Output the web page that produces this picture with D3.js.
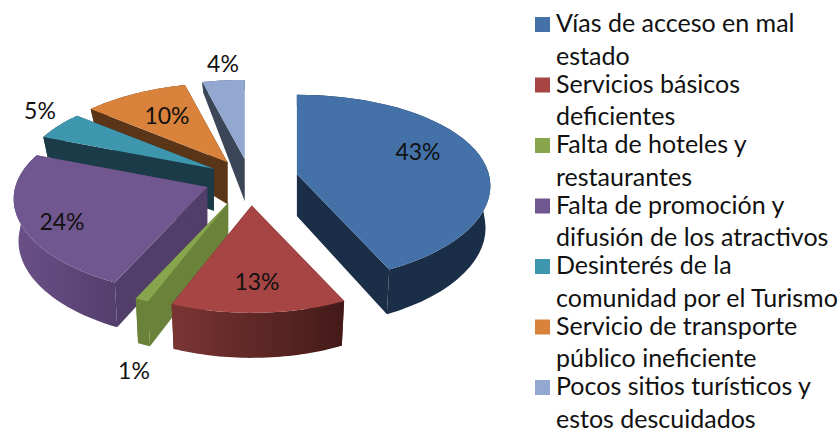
<!DOCTYPE html>
<html>
<head>
<meta charset="utf-8">
<script src="https://cdnjs.cloudflare.com/ajax/libs/d3/7.8.5/d3.min.js"></script>
<style>
  html, body { margin: 0; padding: 0; background: #fff; overflow: hidden; }
  text { font-family: Lato, "Open Sans", sans-serif; fill: #111; }
</style>
</head>
<body>
<div id="chart"></div>
<script>
// chart values
var categories = ["Vías de acceso en mal estado", "Servicios básicos deficientes", "Falta de hoteles y restaurantes",
  "Falta de promoción y difusión de los atractivos", "Desinterés de la comunidad por el Turismo",
  "Servicio de transporte público ineficiente", "Pocos sitios turísticos y estos descuidados"];
var legendLines = [["Vías de acceso en mal", "estado"], ["Servicios básicos", "deficientes"], ["Falta de hoteles y", "restaurantes"],
  ["Falta de promoción y", "difusión de los atractivos"], ["Desinterés de la", "comunidad por el Turismo"],
  ["Servicio de transporte", "público ineficiente"], ["Pocos sitios turísticos y", "estos descuidados"]];
var values = [43, 13, 1, 24, 5, 10, 4];

// colours: top face, side wall, and the two ends of the outer wall shading
var topColors = ["#4471a7", "#a64543", "#87a54c", "#71578f", "#3e97af", "#d8823c", "#92a8d0"];
var wallColors = ["#1b2e47", "#5c2624", "#6a8239", "#523f69", "#1a3b47", "#5a3517", "#3b4658"];
var shadeLeft = ["#1b2e47", "#7a3533", "#6a8239", "#6a5087", "#1a3b47", "#5a3517", "#3b4658"];
var shadeRight = ["#1b2e47", "#431a18", "#6a8239", "#553f6d", "#1a3b47", "#5a3517", "#3b4658"];

// how far each slice is pulled out of the pie, in px
var explode = [48, 56, 55, 46, 42, 42, 42];
// slices are painted back to front
var paintOrder = [6, 5, 4, 3, 2, 1, 0];

var width = 840, height = 429;
var cx = 250, cy = 179;      // middle of the pie
var radius = 192;            // radius in px
var tilt = 0.475;            // squash of the ellipse
var perspX = 0.127, perspY = 0.15;  // near side looks bigger
var depth = 42;              // wall height

var svg = d3.select("#chart").append("svg")
    .attr("width", width)
    .attr("height", height);

var defs = svg.append("defs");

var pie = d3.pie().sort(null)(values);

var line = d3.line();

// rim point of a slice, relative to its apex
function rim(a, bottom) {
  var X = Math.sin(a) * radius, Y = Math.cos(a);
  var fx = 1 / (1 + perspX * Y), fy = 1 / (1 + perspY * Y);
  var h = 0;
  if (bottom) h = Y > 0 ? depth / (1 + 3 * Y) : depth - 3 * Y;
  return [X * fx * (bottom ? 0.975 : 1), -Y * radius * tilt * fy + h];
}

function shift(p, o) { return [p[0] + o[0], p[1] + o[1]]; }

paintOrder.forEach(function(i) {
  var d = pie[i];
  var mid = (d.startAngle + d.endAngle) / 2;
  var apex = [cx + Math.sin(mid) * explode[i], cy - Math.cos(mid) * tilt * explode[i]];

  // points along the rim
  var steps = d3.range(0, 41).map(function(k) {
    return d.startAngle + (d.endAngle - d.startAngle) * k / 40;
  });
  var topRim = steps.map(function(a) { return shift(rim(a, false), apex); });
  var botRim = steps.map(function(a) { return shift(rim(a, true), apex); });
  var apexLow = [apex[0], apex[1] + depth];

  // gradient for the outer wall
  var xs = d3.extent(topRim, function(p) { return p[0]; });
  var grad = defs.append("linearGradient")
      .attr("id", "wall" + i)
      .attr("gradientUnits", "userSpaceOnUse")
      .attr("x1", xs[0]).attr("x2", xs[1])
      .attr("y1", 0).attr("y2", 0);
  grad.append("stop").attr("offset", 0).attr("stop-color", shadeLeft[i]);
  grad.append("stop").attr("offset", 1).attr("stop-color", shadeRight[i]);

  var g = svg.append("g").attr("class", "slice");

  // the two straight walls
  [[topRim[0], botRim[0]], [topRim[40], botRim[40]]].forEach(function(e) {
    g.append("path")
        .attr("d", line([apex, e[0], e[1], apexLow]) + "Z")
        .style("fill", wallColors[i]);
  });

  // outer wall
  g.append("path")
      .attr("d", line(topRim.concat(botRim.slice().reverse())) + "Z")
      .style("fill", "url(#wall" + i + ")");

  // top face
  g.append("path")
      .attr("d", line([apex].concat(topRim)) + "Z")
      .style("fill", topColors[i]);
});

// percentage labels
var labelPos = [[418, 160], [257, 290], [134, 379], [62, 230], [40, 119], [167, 124], [223, 72]];
svg.selectAll("text.pct")
    .data(values)
    .enter().append("text")
    .attr("class", "pct")
    .attr("x", function(d, i) { return labelPos[i][0]; })
    .attr("y", function(d, i) { return labelPos[i][1]; })
    .attr("text-anchor", "middle")
    .attr("font-size", "23px")
    .text(function(d) { return d + "%"; });

// legend
var legendY = d3.scaleLinear().domain([0, 6]).range([32, 395]);

var legend = svg.selectAll("g.legend")
    .data(categories)
    .enter().append("g")
    .attr("class", "legend")
    .attr("transform", function(d, i) { return "translate(535," + legendY(i) + ")"; });

legend.append("rect")
    .attr("x", 0)
    .attr("y", -15)
    .attr("width", 15)
    .attr("height", 15)
    .style("fill", function(d, i) { return topColors[i]; });

legend.each(function(d, i) {
  var t = d3.select(this);
  legendLines[i].forEach(function(s, k) {
    t.append("text")
        .attr("x", 21)
        .attr("y", k * 32.5)
        .attr("font-size", "25px")
        .text(s);
  });
});
</script>
</body>
</html>
